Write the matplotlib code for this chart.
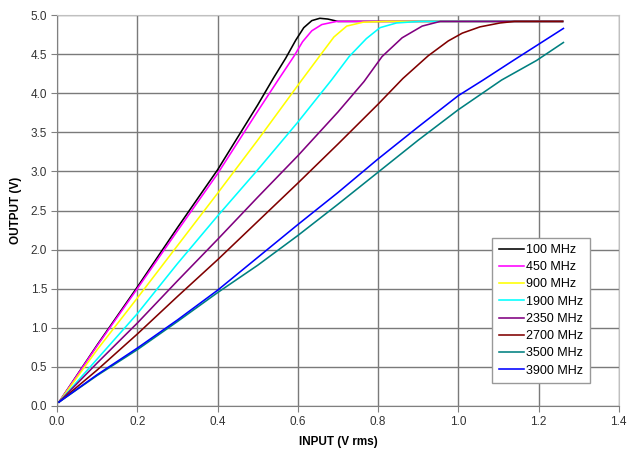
import matplotlib
matplotlib.use("Agg")
import matplotlib.pyplot as plt

plt.rcParams['font.family'] = ['Liberation Sans', 'DejaVu Sans']

labels = ["100 MHz", "450 MHz", "900 MHz", "1900 MHz", "2350 MHz", "2700 MHz", "3500 MHz", "3900 MHz"]
colors = ["#000000", "#ff00ff", "#ffff00", "#00ffff", "#800080", "#800000", "#008080", "#0000ff"]

x_100 = [0.005, 0.1, 0.2, 0.3, 0.4, 0.5, 0.54, 0.57, 0.595, 0.615, 0.635, 0.655, 0.675, 0.7, 0.8, 1.0, 1.26]
y_100 = [0.05, 0.78, 1.52, 2.28, 3.02, 3.85, 4.2, 4.45, 4.68, 4.84, 4.93, 4.96, 4.95, 4.92, 4.92, 4.92, 4.92]

x_450 = [0.005, 0.1, 0.2, 0.3, 0.4, 0.5, 0.551, 0.59, 0.612, 0.635, 0.66, 0.697, 0.75, 1.0, 1.26]
y_450 = [0.05, 0.77, 1.5, 2.24, 2.97, 3.77, 4.17, 4.47, 4.66, 4.8, 4.88, 4.92, 4.92, 4.92, 4.92]

x_900 = [0.005, 0.1, 0.2, 0.3, 0.4, 0.5, 0.61, 0.655, 0.69, 0.722, 0.763, 0.82, 1.0, 1.26]
y_900 = [0.05, 0.72, 1.38, 2.05, 2.72, 3.4, 4.17, 4.48, 4.72, 4.86, 4.91, 4.92, 4.92, 4.92]

x_1900 = [0.005, 0.1, 0.2, 0.3, 0.4, 0.5, 0.6, 0.684, 0.728, 0.771, 0.805, 0.846, 0.904, 1.0, 1.26]
y_1900 = [0.05, 0.6, 1.18, 1.82, 2.43, 3.02, 3.63, 4.17, 4.47, 4.7, 4.84, 4.9, 4.92, 4.92, 4.92]

x_2350 = [0.005, 0.1, 0.2, 0.3, 0.4, 0.5, 0.6, 0.7, 0.765, 0.81, 0.86, 0.91, 0.955, 1.1, 1.26]
y_2350 = [0.05, 0.55, 1.06, 1.6, 2.13, 2.67, 3.2, 3.76, 4.15, 4.47, 4.71, 4.86, 4.92, 4.92, 4.92]

x_2700 = [0.005, 0.1, 0.2, 0.3, 0.4, 0.5, 0.6, 0.7, 0.8, 0.862, 0.925, 0.975, 1.01, 1.054, 1.104, 1.14, 1.2, 1.26]
y_2700 = [0.05, 0.46, 0.92, 1.4, 1.87, 2.36, 2.85, 3.35, 3.86, 4.19, 4.48, 4.67, 4.77, 4.85, 4.9, 4.92, 4.92, 4.92]

x_3500 = [0.005, 0.1, 0.2, 0.3, 0.4, 0.5, 0.6, 0.7, 0.8, 0.9, 1.0, 1.108, 1.195, 1.262]
y_3500 = [0.05, 0.39, 0.72, 1.08, 1.45, 1.8, 2.18, 2.58, 2.99, 3.4, 3.79, 4.17, 4.42, 4.65]

x_3900 = [0.005, 0.1, 0.2, 0.3, 0.4, 0.5, 0.6, 0.7, 0.8, 0.9, 1.0, 1.062, 1.137, 1.262]
y_3900 = [0.05, 0.4, 0.74, 1.1, 1.48, 1.9, 2.32, 2.73, 3.16, 3.57, 3.97, 4.17, 4.42, 4.83]

series_x = [x_100, x_450, x_900, x_1900, x_2350, x_2700, x_3500, x_3900]
series_y = [y_100, y_450, y_900, y_1900, y_2350, y_2700, y_3500, y_3900]

x_ticks = [0.0, 0.2, 0.4, 0.6, 0.8, 1.0, 1.2, 1.4]
y_ticks = [0.0, 0.5, 1.0, 1.5, 2.0, 2.5, 3.0, 3.5, 4.0, 4.5, 5.0]

fig = plt.figure(figsize=(6.27, 4.55), dpi=100)
ax = fig.add_axes([0.0909, 0.1077, 0.896, 0.859])

for xs, ys, c, lab in zip(series_x, series_y, colors, labels):
    ax.plot(xs, ys, color=c, lw=1.15, label=lab)

ax.set_xlim(0, 1.4)
ax.set_ylim(0, 5.0)
ax.set_xticks(x_ticks)
ax.set_yticks(y_ticks)
ax.set_xticklabels([f"{v:.1f}" for v in x_ticks])
ax.set_yticklabels([f"{v:.1f}" for v in y_ticks])
ax.grid(True, color="#7a7a7a", lw=1.0)
ax.set_axisbelow(True)
for s in ["top", "right"]:
    ax.spines[s].set_color("#c0c0c0")
for s in ["left", "bottom"]:
    ax.spines[s].set_color("#808080")
ax.tick_params(axis="both", direction="out", length=4, width=0.8, color="#808080",
               labelsize=8.5, labelcolor="#333333", pad=3)
ax.set_xlabel("INPUT (V rms)", fontsize=8.5, fontweight="bold", labelpad=6)
ax.set_ylabel("OUTPUT (V)", fontsize=8.5, fontweight="bold", labelpad=6)

leg = ax.legend(loc="lower right", bbox_to_anchor=(0.948, 0.059), fontsize=9,
                fancybox=False, framealpha=1, edgecolor="#999999",
                handlelength=2.0, handletextpad=0.2, labelspacing=0.42,
                borderpad=0.5, borderaxespad=0)
leg.get_frame().set_linewidth(1.0)

fig.savefig("out.png", dpi=100)
